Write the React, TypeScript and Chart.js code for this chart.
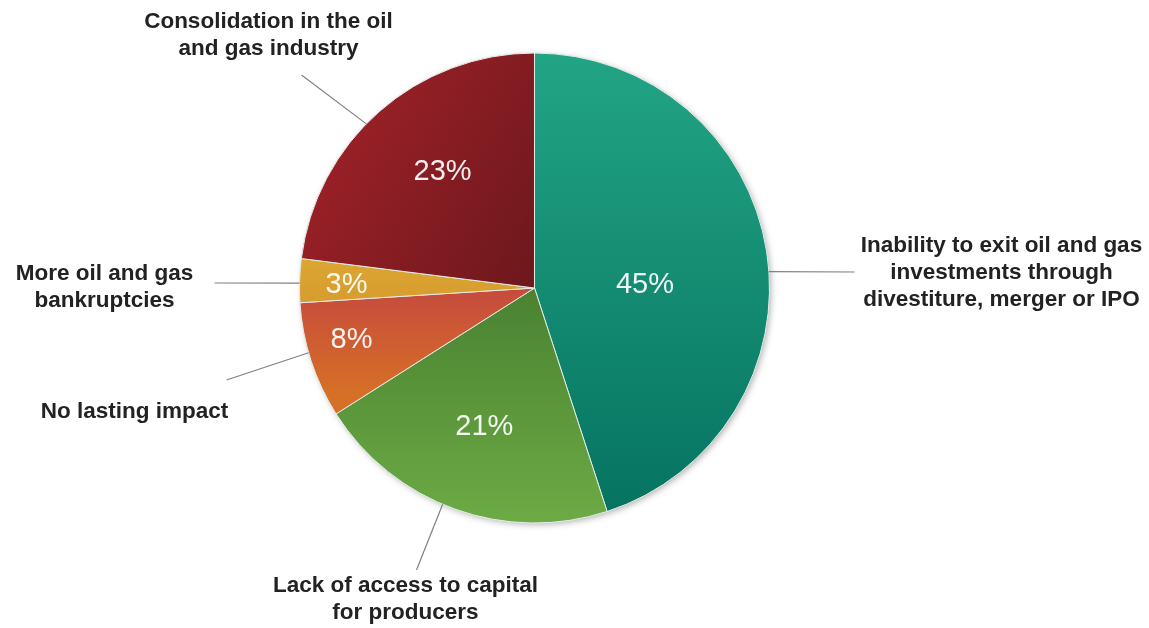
import { useEffect, useRef } from "react";
import { Chart, registerables } from "chart.js";

Chart.register(...registerables);

// ---- data ----
const categories = [
  "Inability to exit oil and gas investments through divestiture, merger or IPO",
  "Lack of access to capital for producers",
  "No lasting impact",
  "More oil and gas bankruptcies",
  "Consolidation in the oil and gas industry",
];
const shares = [45, 21, 8, 3, 23];
const categoryLines = [
  ["Inability to exit oil and gas", "investments through", "divestiture, merger or IPO"],
  ["Lack of access to capital", "for producers"],
  ["No lasting impact"],
  ["More oil and gas", "bankruptcies"],
  ["Consolidation in the oil", "and gas industry"],
];

// ---- styles ----
const gradientStops = [
  ["#22a584", "#057260"],
  ["#4a8231", "#6cab45"],
  ["#c64a3e", "#d67026"],
  ["#dba532", "#d69a2e"],
  ["#9e2128", "#6c181c"],
];
// gradient direction: [x0,y0,x1,y1] in radius units relative to centre
const gradientDirs = [
  [0, -1, 0, 1],
  [0, 0, 0, 1],
  [0, 0, 0, 0.45],
  [0, -0.1, 0, 0.1],
  [-1, -0.6, 0, 0],
];
// callout layout: line start angle (deg, clockwise from top), line end & text centre (px from centre)
const lineStartDeg = [86, 203, 254, 271.2, 314.3];
const lineEnd = [
  [320, -16],
  [-118, 282],
  [-308, 92],
  [-320, -5],
  [-233, -213],
];
const textCentre = [
  [467, -15],
  [-129, 311],
  [-400, 124],
  [-430, -1],
  [-266, -253],
];
// percentage label position: angle (deg) and radius fraction
const pctDeg = [88.4, 199.8, 254, 271, 321.6];
const pctRad = [0.47, 0.63, 0.81, 0.8, 0.63];

const FONT = '"Liberation Sans", Arial, Helvetica, sans-serif';

function polar(cx: number, cy: number, r: number, deg: number) {
  const a = (deg * Math.PI) / 180 - Math.PI / 2;
  return [cx + r * Math.cos(a), cy + r * Math.sin(a)];
}

const calloutPlugin = {
  id: "callouts",
  beforeDatasetsDraw(chart: any) {
    const meta = chart.getDatasetMeta(0);
    const arc = meta.data[0];
    if (!arc) return;
    const ctx = chart.ctx;
    ctx.save();
    ctx.shadowColor = "rgba(0,0,0,0.35)";
    ctx.shadowBlur = 7;
    ctx.shadowOffsetX = 2;
    ctx.shadowOffsetY = 2;
    ctx.fillStyle = "#888";
    ctx.beginPath();
    ctx.arc(arc.x, arc.y, arc.outerRadius - 1, 0, Math.PI * 2);
    ctx.fill();
    ctx.restore();
  },
  afterDatasetsDraw(chart: any) {
    const meta = chart.getDatasetMeta(0);
    const ctx = chart.ctx;
    ctx.save();
    meta.data.forEach((arc: any, i: number) => {
      const cx = arc.x;
      const cy = arc.y;
      const R = arc.outerRadius;
      // percentage
      const [px, py] = polar(cx, cy, R * pctRad[i], pctDeg[i]);
      ctx.font = `29px ${FONT}`;
      ctx.fillStyle = "rgba(255,255,255,0.93)";
      ctx.textAlign = "center";
      ctx.textBaseline = "middle";
      ctx.fillText(shares[i] + "%", px, py);
      // leader line
      const [sx, sy] = polar(cx, cy, R, lineStartDeg[i]);
      ctx.strokeStyle = "#808080";
      ctx.lineWidth = 1.2;
      ctx.beginPath();
      ctx.moveTo(sx, sy);
      ctx.lineTo(cx + lineEnd[i][0], cy + lineEnd[i][1]);
      ctx.stroke();
      // category text
      const lines = categoryLines[i];
      const lh = 27;
      const tx = cx + textCentre[i][0];
      const ty = cy + textCentre[i][1];
      ctx.font = `bold 22.5px ${FONT}`;
      ctx.fillStyle = "#222222";
      lines.forEach((ln: string, k: number) => {
        ctx.fillText(ln, tx, ty + (k - (lines.length - 1) / 2) * lh);
      });
    });
    ctx.restore();
  },
};

export default function App() {
  const ref = useRef<HTMLCanvasElement>(null);
  useEffect(() => {
    if (!ref.current) return;
    const chart = new Chart(ref.current, {
      type: "pie",
      data: {
        labels: categories,
        datasets: [
          {
            data: shares,
            backgroundColor: (c: any) => {
              const i = c.dataIndex;
              const chartObj = c.chart;
              const area = chartObj.chartArea;
              if (!area) return gradientStops[i][0];
              const cx = (area.left + area.right) / 2;
              const cy = (area.top + area.bottom) / 2;
              const R = Math.min(area.right - area.left, area.bottom - area.top) / 2;
              const d = gradientDirs[i];
              const g = chartObj.ctx.createLinearGradient(
                cx + d[0] * R,
                cy + d[1] * R,
                cx + d[2] * R,
                cy + d[3] * R
              );
              g.addColorStop(0, gradientStops[i][0]);
              g.addColorStop(1, gradientStops[i][1]);
              return g;
            },
            borderColor: "#e6ece8",
            borderWidth: 1,
          },
        ],
      },
      options: {
        responsive: false,
        animation: false,
        layout: { padding: { left: 299, right: 379, top: 52, bottom: 104 } },
        plugins: {
          legend: { display: false },
          tooltip: { enabled: false },
        },
      },
      plugins: [calloutPlugin],
    });
    return () => chart.destroy();
  }, []);
  return (
    <div style={{ position: "fixed", left: 0, top: 0, width: 1149, height: 628, background: "#fff" }}>
      <canvas ref={ref} width={1149} height={628} style={{ display: "block" }} />
    </div>
  );
}
